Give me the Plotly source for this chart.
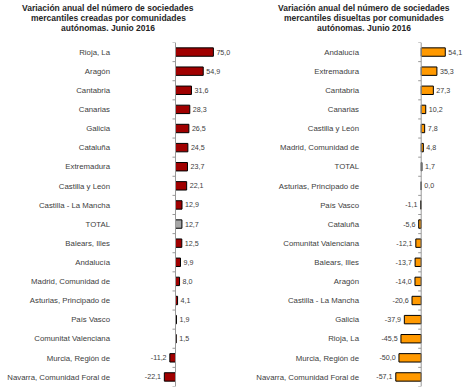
import plotly.graph_objects as go

# ---- data ----
cats_creadas = ["Rioja, La", "Aragón", "Cantabria", "Canarias", "Galicia", "Cataluña",
                "Extremadura", "Castilla y León", "Castilla - La Mancha", "TOTAL",
                "Balears, Illes", "Andalucía", "Madrid, Comunidad de",
                "Asturias, Principado de", "País Vasco", "Comunitat Valenciana",
                "Murcia, Región de", "Navarra, Comunidad Foral de"]
vals_creadas = [75.0, 54.9, 31.6, 28.3, 26.5, 24.5, 23.7, 22.1, 12.9, 12.7,
                12.5, 9.9, 8.0, 4.1, 1.9, 1.5, -11.2, -22.1]

cats_disueltas = ["Andalucía", "Extremadura", "Cantabria", "Canarias", "Castilla y León",
                  "Madrid, Comunidad de", "TOTAL", "Asturias, Principado de", "País Vasco",
                  "Cataluña", "Comunitat Valenciana", "Balears, Illes", "Aragón",
                  "Castilla - La Mancha", "Galicia", "Rioja, La", "Murcia, Región de",
                  "Navarra, Comunidad Foral de"]
vals_disueltas = [54.1, 35.3, 27.3, 10.2, 7.8, 4.8, 1.7, 0.0, -1.1, -5.6, -12.1,
                  -13.7, -14.0, -20.6, -37.9, -45.5, -50.0, -57.1]

title_creadas = ["Variación anual del número de sociedades",
                 "mercantiles creadas por comunidades",
                 "autónomas. Junio 2016"]
title_disueltas = ["Variación anual del número de sociedades",
                   "mercantiles disueltas por comunidades",
                   "autónomas. Junio 2016"]

W, H = 468, 391
FONT = "Liberation Sans, Arial, sans-serif"
RED = "#A00000"
ORANGE = "#FF9900"
GREY = "#A6A6A6"
TXT = "#404040"
AXC = "#999999"


def fmt(v):
    return f"{v:.1f}".replace(".", ",")


def px_x(p):
    return p / W


def px_y(p):
    return 1 - p / H


fig = go.Figure()

fig.add_trace(go.Bar(
    x=vals_creadas, y=cats_creadas, orientation="h",
    marker=dict(color=[GREY if c == "TOTAL" else RED for c in cats_creadas],
                line=dict(color="#000000", width=1)),
    width=0.44,
    text=[fmt(v) for v in vals_creadas], textposition="outside",
    textfont=dict(family=FONT, size=8.5, color=TXT), cliponaxis=False,
    xaxis="x", yaxis="y", hoverinfo="skip"))

fig.add_trace(go.Bar(
    x=vals_disueltas, y=cats_disueltas, orientation="h",
    marker=dict(color=[GREY if c == "TOTAL" else ORANGE for c in cats_disueltas],
                line=dict(color="#000000", width=1)),
    width=0.44,
    text=[fmt(v) for v in vals_disueltas], textposition="outside",
    textfont=dict(family=FONT, size=8.5, color=TXT), cliponaxis=False,
    xaxis="x2", yaxis="y2", hoverinfo="skip"))

# layout geometry (pixels)
ytop, ybot = 42.5, 386.5
L0, Lzero, L1, Lscale = 111, 175.5, 228, 0.505
R0, Rzero, R1, Rscale = 360, 421.2, 468, 0.445

n = len(cats_creadas)
common_y = dict(type="category", range=[n - 0.5, -0.5], showgrid=False, zeroline=False,
                showline=False, ticks="", tickfont=dict(family=FONT, size=7.8, color=TXT),
                domain=[px_y(ybot), px_y(ytop)], fixedrange=True)

fig.update_layout(
    width=W, height=H, autosize=False,
    margin=dict(l=0, r=0, t=0, b=0),
    paper_bgcolor="white", plot_bgcolor="white",
    showlegend=False, bargap=0.5,
    xaxis=dict(domain=[px_x(L0), px_x(L1)],
               range=[-(Lzero - L0) / Lscale, (L1 - Lzero) / Lscale],
               visible=False, anchor="y", fixedrange=True),
    yaxis=dict(anchor="x", **common_y),
    xaxis2=dict(domain=[px_x(R0), px_x(R1)],
                range=[-(Rzero - R0) / Rscale, (R1 - Rzero) / Rscale],
                visible=False, anchor="y2", fixedrange=True),
    yaxis2=dict(anchor="x2", **common_y),
)

shapes = []
for xr, yr in (("x", "y"), ("x2", "y2")):
    shapes.append(dict(type="line", xref=xr, yref=yr, x0=0, x1=0, y0=-0.5, y1=n - 0.5,
                       line=dict(color=AXC, width=1)))
    for i in range(n + 1):
        shapes.append(dict(type="line", xref=xr, yref=yr, xsizemode="pixel", xanchor=0,
                           x0=-3, x1=0, y0=i - 0.5, y1=i - 0.5,
                           line=dict(color=AXC, width=1)))
fig.update_layout(shapes=shapes)

anns = []
for lines, cx in ((title_creadas, 108), (title_disueltas, 363.5)):
    for k, t in enumerate(lines):
        anns.append(dict(text=f"<b>{t}</b>", x=px_x(cx), y=px_y(7.5 + k * 10.5),
                         xref="paper", yref="paper", xanchor="center", yanchor="middle",
                         showarrow=False, font=dict(family=FONT, size=8.5, color="#262626")))
fig.update_layout(annotations=anns)

fig.write_html("out.html", config={"displayModeBar": False},
               post_script="document.body.style.margin='0';document.body.style.overflow='hidden';")
